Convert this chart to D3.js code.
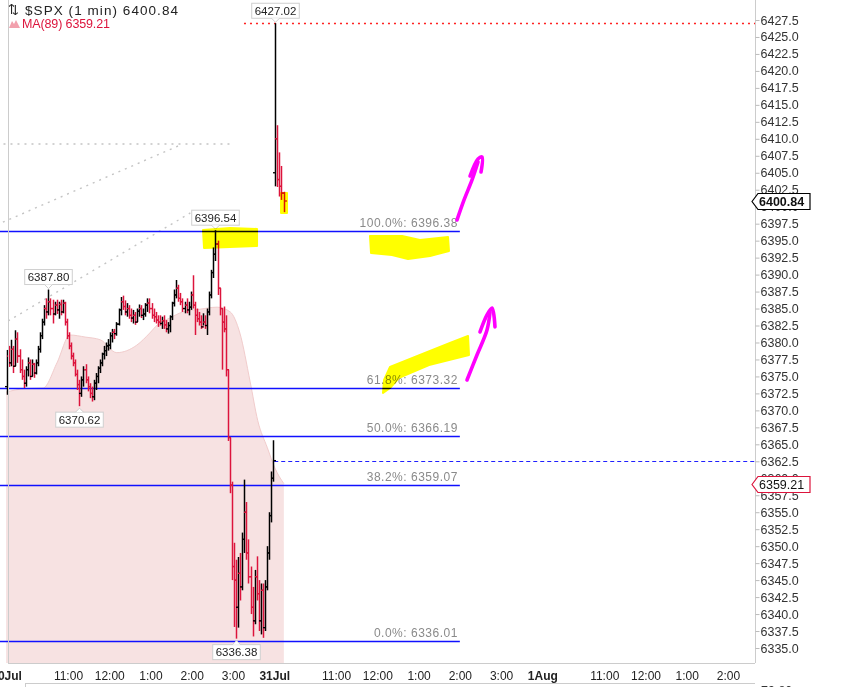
<!DOCTYPE html>
<html><head><meta charset="utf-8">
<script src="https://cdn.jsdelivr.net/npm/d3@7"></script>
<style>
html,body{margin:0;padding:0;background:#fff;overflow:hidden}
svg{display:block}
text{font-family:"Liberation Sans",Arial,sans-serif}
</style></head><body>
<svg id="c" width="843" height="687"></svg>
<script>
// ================= DATA =================
const symbolText = "$SPX (1 min)";
const lastPrice = 6400.84;
const maName = "MA(89)";
const maLast = 6359.21;
const barMinutes = 3;               // bars read at 3-minute resolution
const sessionMinutes = 390;         // 09:30 - 16:00

// 30 Jul (day 1)
const day1Open = 6373.5;
const day1High = [6378.9,6379.5,6380.4,6379.5,6381.8,6381.5,6379.0,6377.5,6376.0,6376.5,
 6377.8,6377.5,6377.5,6377.0,6377.5,6379.5,6381.5,6383.5,6385.5,6386.5,
 6387.8,6386.5,6386.3,6386.0,6386.3,6386.0,6386.3,6386.3,6386.0,6383.5,
 6381.5,6380.0,6378.5,6377.5,6376.0,6374.5,6375.0,6376.5,6376.8,6375.0,
 6374.0,6373.5,6374.5,6375.5,6376.5,6377.5,6378.5,6379.5,6380.0,6380.5,
 6381.5,6382.0,6382.0,6383.0,6385.0,6386.7,6386.9,6386.2,6385.8,6385.5,
 6385.0,6384.8,6384.5,6385.0,6385.6,6385.5,6385.0,6385.8,6386.5,6386.5,
 6385.8,6385.0,6384.5,6384.0,6384.0,6383.8,6384.0,6383.3,6383.0,6384.0,
 6386.0,6387.8,6389.2,6388.5,6387.3,6386.5,6386.0,6386.5,6386.0,6387.5,
 6389.9,6386.0,6385.0,6384.5,6384.0,6384.3,6384.0,6385.0,6387.5,6390.7,
 6394.0,6396.54,6395.0,6388.0,6385.0,6385.3,6384.0,6376.0,6366.0,6359.5,
 6350.5,6348.0,6348.4,6349.0,6352.0,6359.8,6356.5,6351.0,6347.0,6344.0,
 6346.5,6348.5,6345.0,6344.5,6344.5,6345.0,6350.0,6355.0,6361.0,6365.6];
const day1Low = [6372.3,6376.4,6376.5,6375.5,6376.5,6377.0,6375.5,6374.5,6373.3,6373.5,
 6375.0,6374.5,6375.0,6374.8,6375.3,6376.5,6378.5,6380.5,6382.5,6383.5,
 6384.0,6384.0,6382.8,6384.0,6384.2,6383.5,6384.0,6384.3,6382.5,6380.5,
 6379.0,6377.5,6376.5,6375.0,6373.0,6370.62,6372.0,6373.5,6374.0,6372.8,
 6371.8,6371.3,6371.5,6373.0,6374.0,6375.5,6376.5,6377.5,6378.0,6378.8,
 6379.0,6380.0,6380.5,6381.0,6382.5,6384.0,6384.8,6384.0,6383.8,6383.5,
 6383.0,6382.8,6382.6,6383.0,6383.8,6383.6,6383.3,6383.8,6384.5,6384.3,
 6383.5,6383.0,6382.8,6382.3,6382.5,6382.0,6382.0,6381.5,6381.3,6381.5,
 6383.3,6385.3,6386.5,6386.0,6385.5,6384.5,6384.3,6384.3,6384.0,6384.8,
 6385.0,6381.1,6383.0,6382.5,6382.0,6382.5,6382.0,6381.1,6384.0,6386.5,
 6389.5,6392.0,6387.0,6384.0,6376.0,6381.5,6375.0,6365.5,6357.8,6345.0,
 6338.1,6336.38,6338.0,6342.0,6343.5,6349.0,6348.0,6344.5,6340.0,6336.7,
 6338.5,6342.0,6337.5,6337.0,6336.5,6337.5,6343.5,6348.0,6353.5,6359.5];
const day1Close = [6378.0,6377.0,6379.0,6376.5,6380.5,6378.0,6376.0,6375.0,6374.0,6376.0,
 6377.0,6375.0,6376.8,6375.5,6377.0,6379.0,6381.0,6383.0,6385.0,6384.5,
 6386.0,6385.0,6384.2,6385.5,6384.8,6385.6,6384.5,6385.8,6383.0,6381.0,
 6379.5,6378.0,6377.0,6375.3,6373.8,6372.5,6374.5,6376.0,6374.5,6373.5,
 6372.5,6372.0,6374.0,6375.0,6376.2,6377.0,6378.3,6378.8,6379.5,6379.6,
 6381.0,6381.5,6381.3,6382.7,6384.8,6386.0,6385.3,6384.5,6385.0,6384.0,
 6383.6,6384.0,6383.0,6384.6,6385.0,6384.0,6384.2,6385.5,6385.8,6385.0,
 6384.0,6383.8,6383.3,6383.0,6382.8,6383.2,6382.6,6382.0,6382.5,6383.8,
 6385.8,6387.0,6388.0,6386.5,6386.0,6385.0,6385.5,6384.8,6385.2,6387.0,
 6385.5,6384.0,6383.5,6383.0,6382.3,6383.0,6382.5,6384.5,6387.0,6390.3,
 6393.0,6394.5,6388.0,6385.0,6383.0,6382.0,6376.0,6366.0,6359.0,6347.0,
 6345.0,6341.0,6346.0,6344.0,6351.0,6355.0,6349.0,6345.5,6341.0,6339.0,
 6345.5,6343.0,6339.0,6343.5,6338.0,6344.0,6349.0,6354.5,6360.0,6362.6];

// 31 Jul (day 2) first minutes
const day2Open = 6405.0;
const day2High = [6427.02,6412.0,6408.0,6406.0,6402.2];
const day2Low  = [6403.0,6402.9,6401.5,6401.0,6399.2];
const day2Close= [6410.0,6404.0,6403.0,6402.0,6400.84];

// MA(89) read at session minutes (0 = 30 Jul 09:30)
const maMinutes = [0,27,54,74,93,115,137,161,190,209,220,238,257,282,307,326,340,355,366,380,391,404];
const maValues  = [6372.7,6373.2,6373.3,6377.0,6381.1,6380.8,6380.4,6378.5,6379.6,6381.4,6382.6,
                   6383.6,6384.5,6384.9,6385.2,6384.5,6381.4,6374.2,6368.5,6364.5,6361.5,6359.21];

// Fibonacci retracement
const fibHigh = 6396.38, fibLow = 6336.01;
const fibRatios = [1, 0.618, 0.5, 0.382, 0];
const fibStartMinute = -14, fibEndMinute = 660;

const prevClose = 6362.6;           // dashed blue line
const dayHighLine = 6427.02;        // dotted red line

// dotted grey drawing lines: [minute, price]
const dottedLines = [
  [[-14, 6409.24], [329, 6409.24]],
  [[-14, 6397.31], [250, 6408.94]],
  [[3, 6383.17], [268, 6399.08]]
];

// labelled swing points (day, bar index, type)
const swingLabels = [
  {day:1, i:20, type:"high"}, {day:1, i:35, type:"low"},
  {day:1, i:101, type:"high"}, {day:1, i:111, type:"low"},
  {day:2, i:0, type:"high"}
];

// axis labels
const dayLabels = ["30Jul","31Jul","1Aug"];
const hourLabels = ["11:00","12:00","1:00","2:00","3:00"];
const hourOffsets = [90,150,210,270,330];
const yTickValues = d3.range(6335, 6427.51, 2.5);

// hand-drawn highlighter / pen marks, in [minute, price]
const yellowMarks = [
  [[286.4,6396.57],[325.7,6396.87],[365.0,6396.72],[365.0,6394.22],[325.7,6394.07],[287.9,6393.92]],
  [[529.3,6395.69],[575.9,6395.69],[602.0,6395.10],[642.8,6395.54],[644.2,6393.48],[616.6,6392.74],[584.6,6392.30],[561.3,6392.89],[530.8,6393.18]],
  [[558.4,6376.4],[602.0,6378.16],[645.7,6379.93],[671.9,6380.96],[673.3,6378.16],[615.1,6376.69],[571.5,6374.78],[558.4,6373.3],[548.2,6372.57],[549.7,6374.48]],
  [[399.9,6402.02],[408.6,6402.02],[408.6,6399.08],[399.9,6399.08]]
];
const magentaMarks = [
  [[655.9,6398.05],[666.1,6400.99],[677.7,6403.94],[686.4,6406.59]],
  [[674.8,6404.52],[686.4,6407.03],[692.2,6407.32],[690.8,6405.11]],
  [[670.4,6374.48],[684.9,6378.16],[699.5,6381.84],[703.9,6384.5]],
  [[689.3,6381.55],[699.5,6384.05],[706.8,6385.08],[711.1,6382.29]]
];

// ================= CHART =================
const svg = d3.select("#c");
const plotLeft = 8, plotRight = 755, plotTop = 0, plotBottom = 663;

const x = d3.scaleLinear().domain([0, 1089.3]).range([6.1, 755]);
const y = d3.scaleLinear().domain([6335, 6427.5]).range([648, 20]);

// build bars
const bars = [];
day1Close.forEach((c,i)=>{
  bars.push({day:1,i, m:i*barMinutes, o: i===0?day1Open:day1Close[i-1], h:day1High[i], l:day1Low[i], c});
});
day2Close.forEach((c,i)=>{
  bars.push({day:2,i, m:sessionMinutes+i*barMinutes, o: i===0?day2Open:day2Close[i-1], h:day2High[i], l:day2Low[i], c});
});
const bx = b => Math.round(x(b.m + barMinutes/2)) + 0.5;

svg.append("defs").append("clipPath").attr("id","plotclip")
  .append("rect").attr("x",0).attr("y",plotTop).attr("width",plotRight).attr("height",plotBottom);
const plot = svg.append("g").attr("clip-path","url(#plotclip)");

// MA area
const maData = maMinutes.map((m,k)=>({m, v:maValues[k]}));
const maArea = d3.area().x(d=>x(d.m)).y0(plotBottom).y1(d=>y(d.v)).curve(d3.curveMonotoneX);
plot.append("path").datum(maData).attr("d", maArea).attr("fill","#f7e2e2");
plot.append("path").datum(maData).attr("d", d3.line().x(d=>x(d.m)).y(d=>y(d.v)).curve(d3.curveMonotoneX))
  .attr("fill","none").attr("stroke","#f1cccc").attr("stroke-width",1);

// dotted grey lines
dottedLines.forEach(seg=>{
  plot.append("line").attr("x1",x(seg[0][0])).attr("y1",y(seg[0][1]))
    .attr("x2",x(seg[1][0])).attr("y2",y(seg[1][1]))
    .attr("stroke","#c4c4c4").attr("stroke-width",1.4).attr("stroke-dasharray","2 5");
});

// fib lines
fibRatios.forEach(r=>{
  const p = fibLow + r*(fibHigh-fibLow);
  const yy = Math.round(y(p)) + 0.5;
  plot.append("line").attr("x1",x(fibStartMinute)).attr("x2",x(fibEndMinute))
    .attr("y1",yy).attr("y2",yy).attr("stroke","#1010ff").attr("stroke-width",1.3);
  plot.append("text").attr("x",x(fibEndMinute)-2).attr("y",yy-5)
    .attr("text-anchor","end").attr("font-size",12).attr("letter-spacing",0.5)
    .attr("fill","#8a8a8a").text((r*100).toFixed(1)+"%: "+p.toFixed(2));
});

// previous close dashed
plot.append("line").attr("x1",x(sessionMinutes)).attr("x2",plotRight)
  .attr("y1",Math.round(y(prevClose))+0.5).attr("y2",Math.round(y(prevClose))+0.5)
  .attr("stroke","#2020ff").attr("stroke-width",1.2).attr("stroke-dasharray","4 3");
// high dotted red
plot.append("line").attr("x1",x(346)).attr("x2",plotRight)
  .attr("y1",Math.round(y(dayHighLine))+0.5).attr("y2",Math.round(y(dayHighLine))+0.5)
  .attr("stroke","#ff2020").attr("stroke-width",1.6).attr("stroke-dasharray","2 4");

// bars
const up = "#000000", dn = "#dc143c";
const gb = plot.append("g");
bars.forEach(b=>{
  const cx = bx(b), col = b.c>=b.o?up:dn;
  gb.append("line").attr("x1",cx).attr("x2",cx).attr("y1",y(b.h)).attr("y2",y(b.l)).attr("stroke",col).attr("stroke-width",1.5);
  gb.append("line").attr("x1",cx-2.5).attr("x2",cx).attr("y1",y(b.o)).attr("y2",y(b.o)).attr("stroke",col).attr("stroke-width",1.3);
  gb.append("line").attr("x1",cx).attr("x2",cx+2.5).attr("y1",y(b.c)).attr("y2",y(b.c)).attr("stroke",col).attr("stroke-width",1.3);
});

// swing labels
swingLabels.forEach(s=>{
  const b = bars.find(d=>d.day===s.day && d.i===s.i);
  const val = s.type==="high"?b.h:b.l;
  const cx = bx(b), py = y(val);
  const g = plot.append("g");
  const t = g.append("text").attr("font-size",11.5).attr("fill","#222").attr("text-anchor","middle").text(val.toFixed(2));
  const tw = t.node().getComputedTextLength();
  const bw = tw+6, bh = 15;
  const top = s.type==="high" ? py - 5 - bh : py + 6;
  g.insert("rect","text").attr("x",cx-bw/2).attr("y",top).attr("width",bw).attr("height",bh)
    .attr("fill","#fff").attr("stroke","#cfcfcf");
  if (s.type==="high") {
    g.insert("path","text").attr("d",`M${cx-4},${top+bh} L${cx},${top+bh+4} L${cx+4},${top+bh}`).attr("fill","#fff").attr("stroke","#cfcfcf");
  } else {
    g.insert("path","text").attr("d",`M${cx-4},${top} L${cx},${top-4} L${cx+4},${top}`).attr("fill","#fff").attr("stroke","#cfcfcf");
  }
  t.attr("x",cx).attr("y",top+11.5);
});

// highlighter marks
const markLine = d3.line().x(d=>x(d[0])).y(d=>y(d[1]));
yellowMarks.forEach(pts=>{
  svg.append("path").attr("d", markLine(pts)+"Z").attr("fill","#ffff00")
    .attr("stroke","#ffff00").attr("stroke-width",2).attr("stroke-linejoin","round")
    .style("mix-blend-mode","multiply");
});
const penLine = d3.line().x(d=>x(d[0])).y(d=>y(d[1])).curve(d3.curveCatmullRom);
magentaMarks.forEach(pts=>{
  svg.append("path").attr("d", penLine(pts)).attr("fill","none")
    .attr("stroke","#ff00ff").attr("stroke-width",3.6).attr("stroke-linecap","round").attr("stroke-linejoin","round");
});

// frame
svg.append("line").attr("x1",plotLeft+0.5).attr("x2",plotLeft+0.5).attr("y1",plotTop).attr("y2",plotBottom).attr("stroke","#cccccc");
svg.append("line").attr("x1",plotLeft).attr("x2",plotRight).attr("y1",plotBottom+0.5).attr("y2",plotBottom+0.5).attr("stroke","#cccccc");
svg.append("line").attr("x1",plotRight+0.5).attr("x2",plotRight+0.5).attr("y1",plotTop).attr("y2",plotBottom).attr("stroke","#cccccc");

// right axis (labels hidden behind the price tags are skipped)
const tagged = [lastPrice, maLast];
const visibleTicks = yTickValues.filter(v => !tagged.some(t => Math.abs(y(v)-y(t)) < 5));
const ya = svg.append("g").attr("transform",`translate(${plotRight+0.5},0)`)
  .call(d3.axisRight(y).tickValues(yTickValues).tickFormat(v => visibleTicks.includes(v) ? d3.format(".1f")(v) : "").tickSize(4).tickPadding(1));
ya.select(".domain").remove();
ya.selectAll("line").attr("stroke","#bbbbbb");
ya.selectAll("text").attr("font-size",12.5).attr("fill","#333").attr("font-family","Liberation Sans, Arial, sans-serif");

// x axis
const xTicks = [], xTickText = {};
dayLabels.forEach((dl,d)=>{
  const m0 = d*sessionMinutes;
  xTicks.push(m0); xTickText[m0] = dl;
  hourOffsets.forEach((o,k)=>{ const m=m0+o; if (m<=x.domain()[1]) { xTicks.push(m); xTickText[m]=hourLabels[k]; } });
});
const xa = svg.append("g").attr("transform",`translate(0,${plotBottom})`)
  .call(d3.axisBottom(x).tickValues(xTicks).tickFormat(m=>xTickText[m]).tickSize(0).tickPadding(8));
xa.select(".domain").remove();
xa.selectAll("text").attr("font-size",12).attr("fill","#222").attr("font-family","Liberation Sans, Arial, sans-serif")
  .attr("font-weight", m=> (m % sessionMinutes === 0) ? "bold" : "normal");

// price tags
function tag(val, txt, border, bold){
  const yy = Math.round(y(val))+0.5;
  const g = svg.append("g");
  g.append("path").attr("d",`M${plotRight-3},${yy} L${plotRight+3},${yy-8} L810,${yy-8} L810,${yy+8} L${plotRight+3},${yy+8} Z`)
    .attr("fill","#fff").attr("stroke",border).attr("stroke-width",1.2);
  g.append("text").attr("x",plotRight+4).attr("y",yy+4.5).attr("font-size",12.5)
    .attr("font-weight",bold?"bold":"normal").attr("fill","#111").text(txt);
}
tag(lastPrice, lastPrice.toFixed(2), "#000", true);
tag(maLast, maLast.toFixed(2), "#dc143c", false);

// legend
svg.append("text").attr("x",8).attr("y",14).attr("font-size",13).attr("font-family","DejaVu Sans, sans-serif").attr("fill","#222").text("⇅");
svg.append("text").attr("x",25).attr("y",14.5).attr("font-size",13.5).attr("font-family","DejaVu Sans, sans-serif")
  .attr("fill","#222").attr("textLength",153).attr("lengthAdjust","spacing").text(symbolText+" "+lastPrice.toFixed(2));
svg.append("path").attr("d","M9,28 L12,21 L14,24 L16,20 L20,28 Z").attr("fill","#f2a0ad");
svg.append("text").attr("x",22).attr("y",28).attr("font-size",12.5).attr("fill","#dc143c")
  .attr("textLength",88).attr("lengthAdjust","spacing").text(maName+" "+maLast.toFixed(2));

// top of lower panel
svg.append("line").attr("x1",25).attr("x2",plotRight).attr("y1",683.5).attr("y2",683.5).attr("stroke","#cccccc");
svg.append("line").attr("x1",25.5).attr("x2",25.5).attr("y1",683).attr("y2",687).attr("stroke","#cccccc");
svg.append("text").attr("x",761).attr("y",695).attr("font-size",12.5).attr("fill","#333").text("79.80");
</script>
</body></html>
